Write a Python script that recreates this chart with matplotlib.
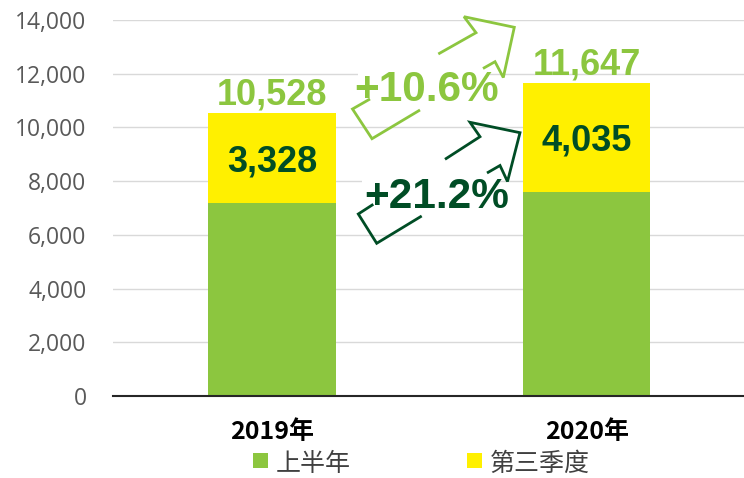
import numpy as np
import matplotlib
matplotlib.use("Agg")
import matplotlib.pyplot as plt
from matplotlib.patches import Rectangle

# ---- data ----
categories = ["2019年", "2020年"]
first_half = [7200, 7612]
third_quarter = [3328, 4035]
totals = [10528, 11647]
growth_total = "+10.6%"
growth_q3 = "+21.2%"
series_names = ["上半年", "第三季度"]
y_ticks = [0, 2000, 4000, 6000, 8000, 10000, 12000, 14000]

GREEN = "#8CC63F"
YELLOW = "#FFF000"
DARK = "#004D25"
LIGHT = "#8CC63F"

W, H = 744, 478
fig = plt.figure(figsize=(W / 100, H / 100), dpi=100)
ax = fig.add_axes([113 / W, 82 / H, 631 / W, 376 / H])

x = np.arange(len(categories))
bw = 0.404
ax.bar(x, first_half, width=bw, color=GREEN, zorder=2)
ax.bar(x, third_quarter, width=bw, bottom=first_half, color=YELLOW, zorder=2)

ax.set_xlim(-0.505, 1.5)
ax.set_ylim(0, 14000)
ax.set_yticks(y_ticks)
ax.set_yticklabels([f"{v:,}" for v in y_ticks], family="Open Sans")
ax.set_xticks(x)
ax.set_xticklabels(categories, family=["Noto Sans CJK SC"], fontweight="bold",
                   fontsize=18, color="black")
ax.tick_params(axis="y", length=0, pad=19, labelsize=16.5, labelcolor="#595959")
ax.tick_params(axis="x", length=0, pad=17)
ax.yaxis.grid(True, color="#D9D9D9", lw=1.0)
ax.set_axisbelow(True)
for s in ["top", "right", "left"]:
    ax.spines[s].set_visible(False)
ax.spines["bottom"].set_color("#262626")
ax.spines["bottom"].set_linewidth(1.5)
ax.spines["bottom"].set_zorder(3)

num_font = dict(family="Liberation Sans", fontweight="bold")
for i in range(len(categories)):
    ax.annotate(f"{totals[i]:,}", xy=(x[i], totals[i]), xytext=(0, 6.5),
                textcoords="offset points", ha="center", va="baseline",
                fontsize=26, color=LIGHT, **num_font)
    ax.text(x[i], first_half[i] + third_quarter[i] / 2, f"{third_quarter[i]:,}",
            ha="center", va="center_baseline", fontsize=26, color=DARK,
            zorder=4, **num_font)

# ---- overlay in pixel coordinates for growth arrows / legend ----
ov = fig.add_axes([0, 0, 1, 1])
ov.set_xlim(0, W)
ov.set_ylim(H, 0)
ov.axis("off")
ov.patch.set_visible(False)

# white text boxes hiding gridlines
ov.add_patch(Rectangle((358, 62), 132, 30, facecolor="white", edgecolor="none", zorder=1))
ov.add_patch(Rectangle((362, 168), 135, 28, facecolor="white", edgecolor="none", zorder=1))

arrow_kw = dict(lw=2.0, solid_joinstyle="miter", solid_capstyle="butt", zorder=2)
light_head = [(438.3, 54), (476, 32.7), (464, 16.7), (514.3, 27.3), (503.3, 77.5),
              (495, 61.7), (483, 68.5)]
light_tail = [(370, 99), (352.5, 109), (372, 138.7), (420, 110)]
dark_head = [(445, 159.3), (480, 136.7), (470, 122.3), (520, 132.7), (507.5, 181.5),
             (500, 165.5), (487, 173)]
dark_tail = [(373.3, 204.3), (358.3, 214), (376.7, 243.3), (421.7, 216)]
for pts, c in [(light_head, LIGHT), (light_tail, LIGHT), (dark_head, DARK), (dark_tail, DARK)]:
    px, py = zip(*pts)
    ov.plot(px, py, color=c, **arrow_kw)

ov.text(426.5, 85, growth_total, ha="center", va="center_baseline", fontsize=30.5,
        color=LIGHT, zorder=3, **num_font)
ov.text(437, 192, growth_q3, ha="center", va="center_baseline", fontsize=30.5,
        color=DARK, zorder=3, **num_font)

# legend
for (lx, tx), name, col in zip([(253, 276), (467, 490)], series_names, [GREEN, YELLOW]):
    ov.add_patch(Rectangle((lx, 453), 15, 15, facecolor=col, edgecolor="none"))
    ov.text(tx, 477, name, ha="left", va="bottom", fontsize=18, color="#404040",
            family=["Noto Sans CJK SC"])

fig.savefig("out.png", dpi=100)
